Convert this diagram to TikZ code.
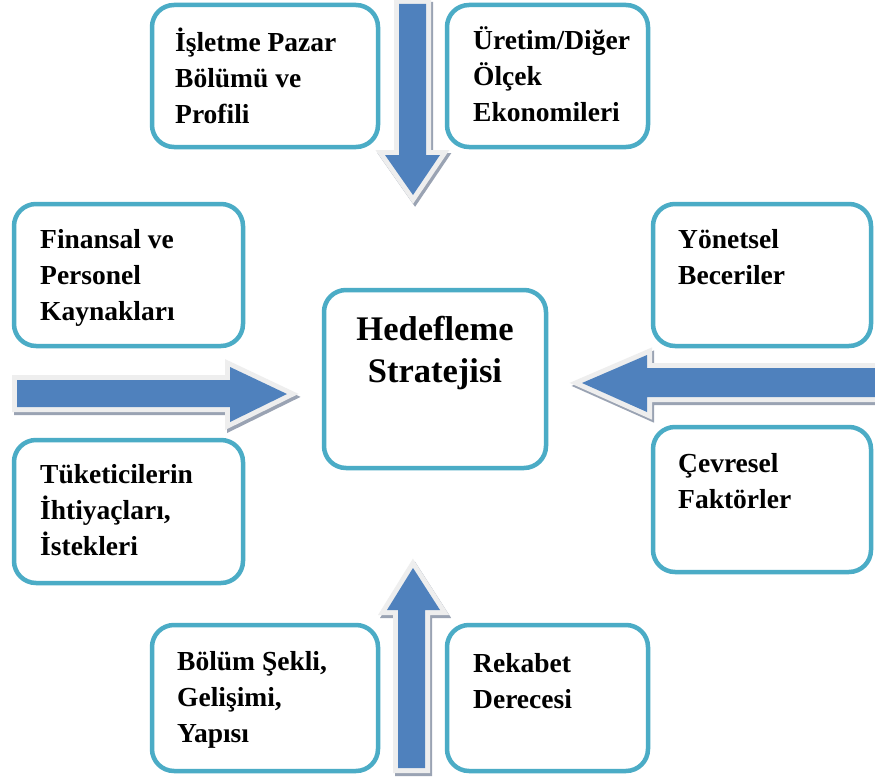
\documentclass[tikz,border=0pt]{standalone}
\usepackage{fontspec}
\setmainfont{Liberation Serif}[BoldFont={Liberation Serif Bold}]
\definecolor{boxborder}{HTML}{4BACC6}
\definecolor{arrowblue}{HTML}{4F81BD}
\definecolor{arrowedge}{HTML}{EEEEEE}
\definecolor{arrowshade}{HTML}{9AA3B3}
\newcommand{\blockarrowdraw}[1]{%
  \path[arrowshadest, shift={(2,3)}] #1 -- cycle;
  \path[arrowedgest] #1 -- cycle;
  \path[arrowbodyst] #1 -- cycle;}
\tikzset{
  arrowshadest/.style={fill=arrowshade, draw=arrowshade, line width=10pt, line join=miter},
  arrowedgest/.style={fill=arrowedge, draw=arrowedge, line width=10pt, line join=miter},
  arrowbodyst/.style={fill=arrowblue},
  boxst/.style={draw=boxborder, line width=4.5pt, rounded corners=22pt, fill=white, inner sep=0pt, rectangle},
  txtst/.style={anchor=north west, inner sep=0pt, align=left, text=black,
    font=\fontsize{27.5}{36}\selectfont\bfseries},
  centertxtst/.style={anchor=north, inner sep=0pt, align=center, text=black,
    font=\fontsize{34.5}{42}\selectfont\bfseries}
}
\begin{document}
\begin{tikzpicture}[x=1pt, y=-1pt]
\useasboundingbox (0,0) rectangle (875,784);
\fill[white] (0,0) rectangle (875,784);
% arrows
\blockarrowdraw{(399,4) -- (426,4) -- (426,155) -- (440,155) -- (413,195) -- (385,155) -- (399,155)}
\blockarrowdraw{(17,380) -- (230,380) -- (230,367) -- (287,394) -- (230,422) -- (230,407) -- (17,407)}
\blockarrowdraw{(885,368) -- (647,368) -- (647,355) -- (582,383) -- (647,412) -- (647,397) -- (885,397)}
\blockarrowdraw{(398,768) -- (398,610) -- (387,610) -- (413,568) -- (440,610) -- (425,610) -- (425,768)}
% boxes
\node[boxst, minimum width=226pt, minimum height=142pt] (b1) at (265,76) {};
\node[boxst, minimum width=201pt, minimum height=142pt] (b2) at (547.5,76) {};
\node[boxst, minimum width=229pt, minimum height=142pt] (b3) at (128.5,275) {};
\node[boxst, minimum width=218pt, minimum height=142pt] (b4) at (762,275) {};
\node[boxst, minimum width=229pt, minimum height=143pt] (b5) at (128.5,511.5) {};
\node[boxst, minimum width=218pt, minimum height=145pt] (b6) at (762,499.5) {};
\node[boxst, minimum width=226pt, minimum height=146pt] (b7) at (265,698) {};
\node[boxst, minimum width=201pt, minimum height=146pt] (b8) at (547.5,698) {};
\node[boxst, minimum width=222pt, minimum height=178pt] (c) at (435,379) {};
% texts
\node[txtst] (t1) at (175,25.8) {\strut İşletme Pazar\\Bölümü ve\\Profili};
\node[txtst] (t2) at (473,23.8) {\strut Üretim/Diğer\\Ölçek\\Ekonomileri};
\node[txtst] (t3) at (40,222.8) {\strut Finansal ve\\Personel\\Kaynakları};
\node[txtst] (t4) at (678,222.8) {\strut Yönetsel\\Beceriler};
\node[txtst] (t5) at (40,457.8) {\strut Tüketicilerin\\İhtiyaçları,\\İstekleri};
\node[txtst] (t6) at (678,446.8) {\strut Çevresel\\Faktörler};
\node[txtst] (t7) at (177,644.8) {\strut Bölüm Şekli,\\Gelişimi,\\Yapısı};
\node[txtst] (t8) at (473,646.8) {\strut Rekabet\\Derecesi};
\node[centertxtst] (ct) at (435,310.6) {\strut Hedefleme\\Stratejisi};
\end{tikzpicture}
\end{document}
